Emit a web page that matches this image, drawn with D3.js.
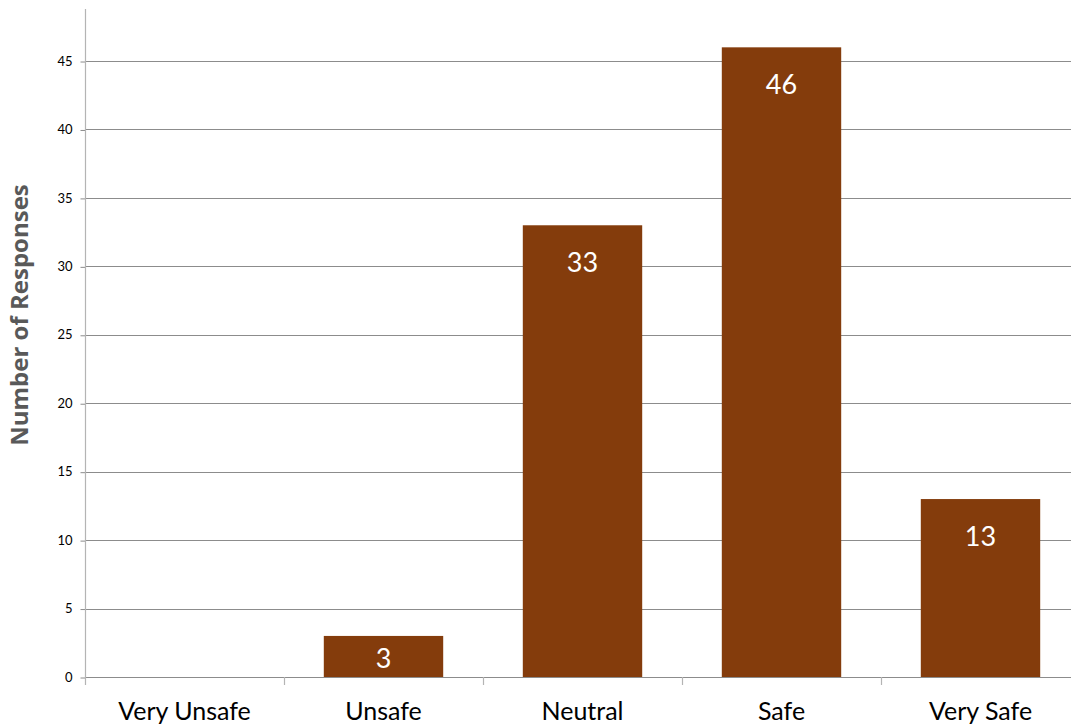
<!DOCTYPE html>
<html>
<head>
<meta charset="utf-8">
<script src="https://cdn.jsdelivr.net/npm/d3@7"></script>
<style>
  html, body { margin: 0; padding: 0; background: #fff; }
  svg { display: block; }
</style>
</head>
<body>
<svg id="chart" width="1071" height="728"></svg>
<script>
// Survey responses: perceived safety
const categories = ["Very Unsafe", "Unsafe", "Neutral", "Safe", "Very Safe"];
const responses = [0, 3, 33, 46, 13];
const yTicks = [0, 5, 10, 15, 20, 25, 30, 35, 40, 45];
const yTitle = "Number of Responses";

const W = 1071, H = 728;
const plot = { left: 85, right: 1080, top: 9, bottom: 677 };
const barColor = "#843c0c";
const font = "Lato, 'Open Sans', sans-serif";

const svg = d3.select("#chart");

const x = d3.scaleBand()
  .domain(categories)
  .range([plot.left, plot.right])
  .paddingInner(0.4)
  .paddingOuter(0.2);

const y = d3.scaleLinear()
  .domain([0, 48.8])
  .range([plot.bottom, plot.top]);

// Horizontal gridlines
svg.append("g")
  .selectAll("line")
  .data(yTicks)
  .join("line")
  .attr("x1", plot.left)
  .attr("x2", W)
  .attr("y1", d => Math.round(y(d)) + 0.5)
  .attr("y2", d => Math.round(y(d)) + 0.5)
  .attr("stroke", "#8c8c8c")
  .attr("stroke-width", 1);

// Bars
svg.append("g")
  .selectAll("rect")
  .data(categories.map((c, i) => ({ c, v: responses[i] })))
  .join("rect")
  .attr("x", d => x(d.c))
  .attr("y", d => y(d.v))
  .attr("width", x.bandwidth())
  .attr("height", d => y(0) - y(d.v))
  .attr("fill", barColor);

// Value labels inside bar tops
svg.append("g")
  .selectAll("text")
  .data(categories.map((c, i) => ({ c, v: responses[i] })).filter(d => d.v > 0))
  .join("text")
  .attr("x", d => x(d.c) + x.bandwidth() / 2)
  .attr("y", d => Math.min(y(d.v) + 47, y(0) - 9))
  .attr("text-anchor", "middle")
  .attr("fill", "#ffffff")
  .style("font-family", font)
  .style("font-size", "27px")
  .text(d => d.v);

// Y axis
const yAxis = d3.axisLeft(y).tickValues(yTicks).tickSize(5).tickPadding(8);
const gy = svg.append("g")
  .attr("transform", `translate(${plot.left + 0.5},0)`)
  .call(yAxis);
gy.select(".domain").remove();
gy.selectAll(".tick line").attr("stroke", "#8c8c8c").attr("transform", "translate(0,0.5)");
gy.selectAll(".tick text")
  .style("font-family", font)
  .style("font-size", "13px")
  .attr("fill", "#000");
svg.append("line")
  .attr("x1", plot.left + 0.5).attr("x2", plot.left + 0.5)
  .attr("y1", plot.top).attr("y2", plot.bottom + 8)
  .attr("stroke", "#b4b4b4").attr("stroke-width", 1.2);

// X axis: ticks between categories
const boundaries = categories.map(c => x(c) - x.step() * x.paddingInner() / 2);
boundaries[0] = plot.left;
svg.append("g")
  .selectAll("line")
  .data(boundaries.slice(1))
  .join("line")
  .attr("x1", d => Math.round(d) + 0.5).attr("x2", d => Math.round(d) + 0.5)
  .attr("y1", plot.bottom).attr("y2", plot.bottom + 8)
  .attr("stroke", "#b4b4b4").attr("stroke-width", 1.2);

svg.append("g")
  .selectAll("text")
  .data(categories)
  .join("text")
  .attr("x", d => x(d) + x.bandwidth() / 2)
  .attr("y", 720)
  .attr("text-anchor", "middle")
  .attr("fill", "#000")
  .style("font-family", font)
  .style("font-size", "25px")
  .text(d => d);

// Y title
svg.append("text")
  .attr("transform", `translate(28,${315}) rotate(-90)`)
  .attr("text-anchor", "middle")
  .attr("fill", "#595959")
  .style("font-family", "'Open Sans', sans-serif")
  .style("font-weight", "bold")
  .style("font-size", "24px")
  .text(yTitle);
</script>
</body>
</html>
